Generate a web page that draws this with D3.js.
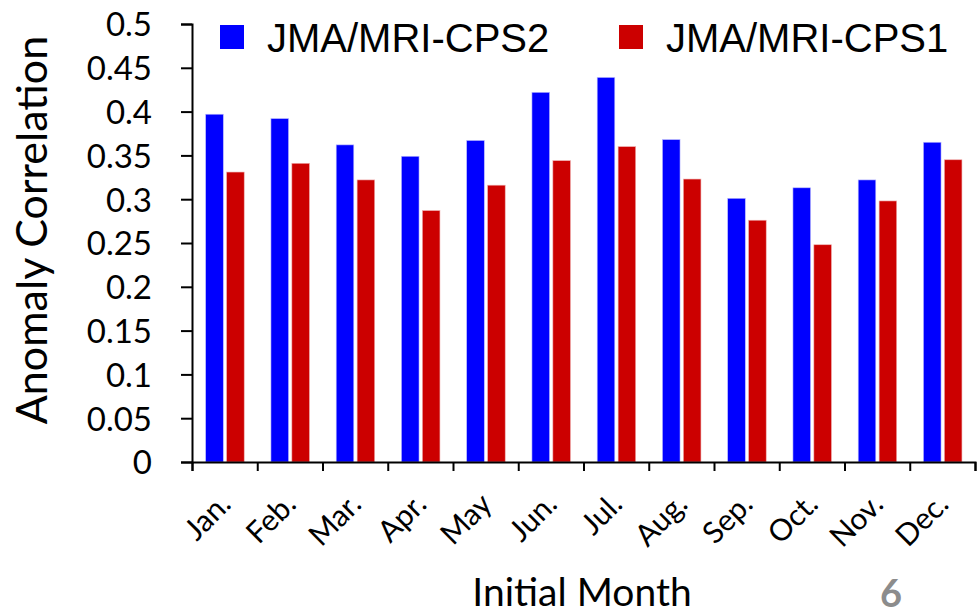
<!DOCTYPE html>
<html>
<head>
<meta charset="utf-8">
<script src="https://cdn.jsdelivr.net/npm/d3@7"></script>
<style>
  body { margin: 0; background: #fff; }
  svg { display: block; }
</style>
</head>
<body>
<div id="chart"></div>
<script>
// Data
var months = ["Jan.", "Feb.", "Mar.", "Apr.", "May", "Jun.", "Jul.", "Aug.", "Sep.", "Oct.", "Nov.", "Dec."];
var seriesNames = ["JMA/MRI-CPS2", "JMA/MRI-CPS1"];
var cps2 = [0.397, 0.392, 0.362, 0.349, 0.367, 0.422, 0.439, 0.368, 0.301, 0.313, 0.322, 0.365];
var cps1 = [0.331, 0.341, 0.322, 0.287, 0.316, 0.344, 0.360, 0.323, 0.276, 0.248, 0.298, 0.345];
var yTicks = [0, 0.05, 0.1, 0.15, 0.2, 0.25, 0.3, 0.35, 0.4, 0.45, 0.5];
var colors = ["#0000ff", "#cc0000"];

var w = 980, h = 607;
var plotLeft = 192, plotRight = 975, plotTop = 24, plotBottom = 462;

var svg = d3.select("#chart").append("svg")
    .attr("width", w)
    .attr("height", h);

// scales
var x0 = d3.scaleBand()
    .domain(months)
    .range([plotLeft, plotRight])
    .padding(0);

var bw = x0.bandwidth();
var x1 = d3.scaleBand()
    .domain(seriesNames)
    .range([bw * 0.21, bw * 0.8])
    .paddingInner(0.16);

var y = d3.scaleLinear()
    .domain([0, 0.5])
    .range([plotBottom, plotTop]);

// rows for grouped bars
var rows = months.map(function (m, i) {
    return { month: m, values: [cps2[i], cps1[i]] };
});

// bars
var groups = svg.selectAll("g.month")
    .data(rows)
    .enter()
    .append("g")
    .attr("class", "month")
    .attr("transform", function (d) { return "translate(" + x0(d.month) + ",0)"; });

groups.selectAll("rect")
    .data(function (d) { return d.values.map(function (v, j) { return { key: seriesNames[j], value: v, j: j }; }); })
    .enter()
    .append("rect")
    .attr("x", function (d) { return x1(d.key); })
    .attr("y", function (d) { return y(d.value); })
    .attr("width", x1.bandwidth())
    .attr("height", function (d) { return y(0) - y(d.value); })
    .attr("fill", function (d) { return colors[d.j]; })
    .attr("stroke", function (d) { return d.j === 0 ? "#b8b8ff" : "#eeb0b0"; })
    .attr("stroke-width", 0.6);

// y axis
var yAxis = d3.axisLeft(y)
    .tickValues(yTicks)
    .tickSize(11)
    .tickPadding(29)
    .tickFormat(function (d) { return String(+d.toFixed(2)); });

var gy = svg.append("g")
    .attr("transform", "translate(" + plotLeft + ",0)")
    .call(yAxis);
gy.select(".domain").attr("stroke", "#000").attr("stroke-width", 2);
gy.selectAll(".tick line").attr("stroke", "#000").attr("stroke-width", 2);
gy.selectAll(".tick text")
    .attr("fill", "#000")
    .style("font-family", "Lato, 'Open Sans', sans-serif")
    .style("font-size", "33px")
    .attr("dy", "0.36em");

// x axis tick marks on band boundaries
var xEdge = d3.scaleLinear().domain([0, months.length]).range([plotLeft, plotRight]);
var gx = svg.append("g")
    .attr("transform", "translate(0," + plotBottom + ")")
    .call(d3.axisBottom(xEdge).ticks(months.length).tickSize(9).tickFormat(""));
gx.select(".domain").attr("stroke", "#000").attr("stroke-width", 2);
gx.selectAll(".tick line").attr("stroke", "#000").attr("stroke-width", 2);

// x tick labels, rotated
svg.append("g").selectAll("text")
    .data(months)
    .enter()
    .append("text")
    .attr("transform", function (d) {
        return "translate(" + (x0(d) + bw / 2 + 8) + ",506) rotate(-45)";
    })
    .attr("text-anchor", "end")
    .style("font-family", "Lato, 'Open Sans', sans-serif")
    .style("font-size", "30px")
    .text(function (d) { return d; });

// axis titles
svg.append("text")
    .attr("transform", "translate(47,230) rotate(-90)")
    .attr("text-anchor", "middle")
    .style("font-family", "Lato, 'Open Sans', sans-serif")
    .style("font-size", "43px")
    .text("Anomaly Correlation");

svg.append("text")
    .attr("x", 582)
    .attr("y", 606)
    .attr("text-anchor", "middle")
    .style("font-family", "Lato, 'Open Sans', sans-serif")
    .style("font-size", "39px")
    .text("Initial Month");

// page number
svg.append("text")
    .attr("x", 891)
    .attr("y", 607)
    .attr("text-anchor", "middle")
    .attr("fill", "#8c8c8c")
    .style("font-family", "Lato, 'Open Sans', sans-serif")
    .style("font-weight", "bold")
    .style("font-size", "38px")
    .text("6");

// legend
var legendX = [220, 619];
var legend = svg.selectAll("g.legend")
    .data(seriesNames)
    .enter()
    .append("g")
    .attr("class", "legend")
    .attr("transform", function (d, i) { return "translate(" + legendX[i] + ",25)"; });

legend.append("rect")
    .attr("width", 24)
    .attr("height", 24)
    .attr("fill", function (d, i) { return colors[i]; });

legend.append("text")
    .attr("x", 47)
    .attr("y", 26.5)
    .style("font-family", "'Liberation Sans', Arial, sans-serif")
    .style("font-size", "40px")
    .text(function (d) { return d; });
</script>
</body>
</html>
